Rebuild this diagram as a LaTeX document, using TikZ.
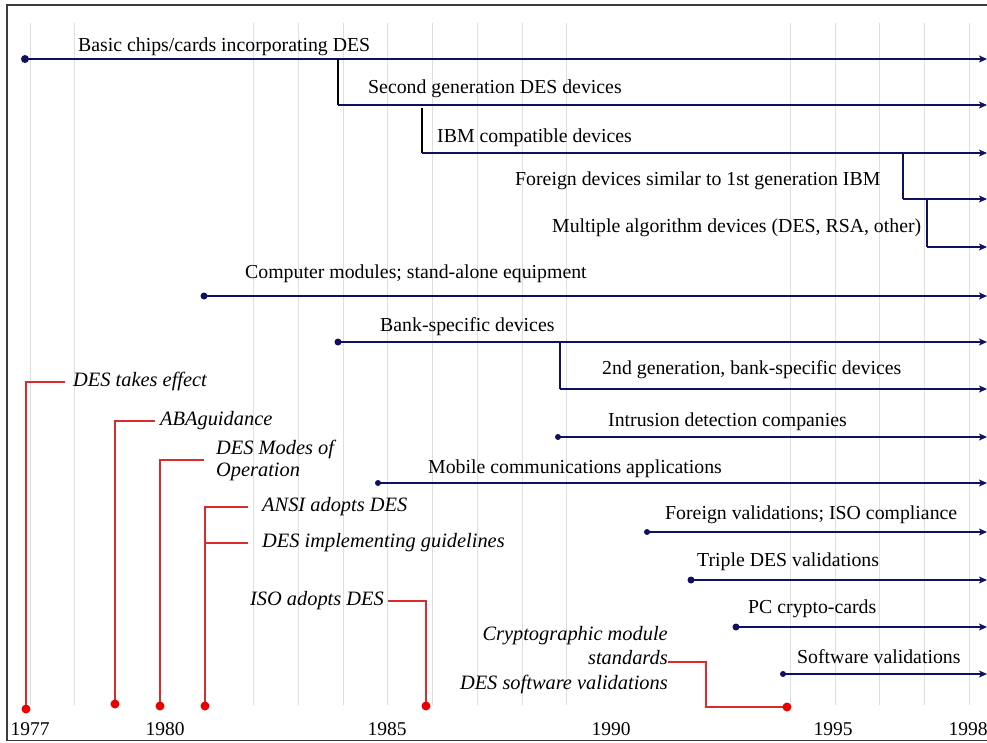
\documentclass[tikz,border=0pt]{standalone}
\usepackage{fontspec}
\setmainfont{Liberation Serif}
\usetikzlibrary{arrows.meta}
\definecolor{navy}{RGB}{16,16,96}
\definecolor{evred}{RGB}{215,45,45}
\definecolor{dotred}{RGB}{235,0,0}
\definecolor{gridgray}{RGB}{222,222,222}
\definecolor{framegray}{RGB}{60,60,60}
\begin{document}
\begin{tikzpicture}[x=1pt,y=-1pt,
  lbl/.style={font=\fontsize{19.8}{22}\selectfont, anchor=base west, inner sep=0pt},
  evt/.style={font=\fontsize{20.4}{22}\selectfont\itshape, anchor=west, inner sep=0pt, text height=13pt, text depth=4pt},
  evtml/.style={font=\fontsize{20.4}{22}\selectfont\itshape, inner sep=0pt},
  yr/.style={font=\fontsize{19.5}{22}\selectfont, anchor=base, inner sep=0pt},
  tl/.style={draw=navy, line width=1.3pt, -{Stealth[length=8pt,width=7pt,inset=2pt]}},
  tlthick/.style={tl, line width=2pt},
  branch/.style={draw=black, line width=1.3pt},
  nbranch/.style={draw=navy, line width=1.3pt},
  evline/.style={draw=evred, line width=1.3pt},
  gridline/.style={draw=gridgray, line width=0.8pt},
  bdot/.style={fill=navy},
  rdot/.style={fill=dotred}
]
\useasboundingbox (0,0) rectangle (987,742);
\fill[white] (0,0) rectangle (987,742);
% frame
\draw[framegray, line width=1.2pt] (1000,5) -- (7,5) -- (7,740.5) -- (1000,740.5);
% grid
\foreach \k in {0,1,5,6,7,8,9,10,11,12,17,18,19,20,21}
  \draw[gridline] ({30+44.72*\k},23) -- ({30+44.72*\k},705);

% ---------- blue timelines ----------
% 1
\coordinate (s1) at (25,59); \coordinate (e1) at (987,59);
\draw[tlthick] (s1) -- (e1);
\fill[bdot] (s1) circle (4pt);
\node[lbl] (l1) at (78,51) {Basic chips/cards incorporating DES};
% 2
\coordinate (b2) at (338,59); \coordinate (s2) at (338,105); \coordinate (e2) at (987,105);
\draw[branch] (b2) -- (s2);
\draw[tl] (s2) -- (e2);
\node[lbl] (l2) at (368,93) {Second generation DES devices};
% 3
\coordinate (b3) at (422,108); \coordinate (s3) at (422,153); \coordinate (e3) at (987,153);
\draw[branch] (b3) -- (s3);
\draw[tl] (s3) -- (e3);
\node[lbl] (l3) at (437,142) {IBM compatible devices};
% 4
\coordinate (b4) at (903,153); \coordinate (s4) at (903,199); \coordinate (e4) at (987,199);
\draw[nbranch] (b4) -- (s4);
\draw[tl] (s4) -- (e4);
\node[lbl] (l4) at (515,185) {Foreign devices similar to 1st generation IBM};
% 5
\coordinate (b5) at (927,199); \coordinate (s5) at (927,247); \coordinate (e5) at (987,247);
\draw[nbranch] (b5) -- (s5);
\draw[tl] (s5) -- (e5);
\node[lbl] (l5) at (552,232) {Multiple algorithm devices (DES, RSA, other)};
% 6
\coordinate (s6) at (204,296); \coordinate (e6) at (987,296);
\draw[tlthick] (s6) -- (e6);
\fill[bdot] (s6) circle (3.5pt);
\node[lbl] (l6) at (245,278) {Computer modules; stand-alone equipment};
% 7
\coordinate (s7) at (338,342); \coordinate (e7) at (987,342);
\draw[tlthick] (s7) -- (e7);
\fill[bdot] (s7) circle (3.5pt);
\node[lbl] (l7) at (380,331) {Bank-specific devices};
% 8
\coordinate (b8) at (560,342); \coordinate (s8) at (560,389); \coordinate (e8) at (987,389);
\draw[nbranch] (b8) -- (s8);
\draw[tl] (s8) -- (e8);
\node[lbl] (l8) at (602,374) {2nd generation, bank-specific devices};
% 9
\coordinate (s9) at (558,437); \coordinate (e9) at (987,437);
\draw[tl] (s9) -- (e9);
\fill[bdot] (s9) circle (3pt);
\node[lbl] (l9) at (608,426) {Intrusion detection companies};
% 10
\coordinate (s10) at (378,483); \coordinate (e10) at (987,483);
\draw[tl] (s10) -- (e10);
\fill[bdot] (s10) circle (3pt);
\node[lbl] (l10) at (428,473) {Mobile communications applications};
% 11
\coordinate (s11) at (647,532); \coordinate (e11) at (987,532);
\draw[tl] (s11) -- (e11);
\fill[bdot] (s11) circle (3pt);
\node[lbl] (l11) at (665,519) {Foreign validations; ISO compliance};
% 12
\coordinate (s12) at (691,580); \coordinate (e12) at (987,580);
\draw[tlthick] (s12) -- (e12);
\fill[bdot] (s12) circle (3.5pt);
\node[lbl] (l12) at (697,566) {Triple DES validations};
% 13
\coordinate (s13) at (736,627); \coordinate (e13) at (987,627);
\draw[tlthick] (s13) -- (e13);
\fill[bdot] (s13) circle (3.5pt);
\node[lbl] (l13) at (748,613) {PC crypto-cards};
% 14
\coordinate (s14) at (783,674); \coordinate (e14) at (987,674);
\draw[tl] (s14) -- (e14);
\fill[bdot] (s14) circle (3pt);
\node[lbl] (l14) at (797,663) {Software validations};

% ---------- red events ----------
\coordinate (d1) at (26,709);
\node[evt] (ev1) at (73,382) {DES takes effect};
\draw[evline] (d1) |- ([xshift=-8pt]ev1.west);

\coordinate (d2) at (115,704);
\node[evt] (ev2) at (160,421) {ABAguidance};
\draw[evline] (d2) |- ([xshift=-5pt]ev2.west);

\coordinate (d3) at (160,706);
\node[evtml, anchor=west, align=left] (ev3) at (216,460) {DES Modes of\\Operation};
\draw[evline] (d3) |- ([xshift=-12pt]ev3.west);

\coordinate (d4) at (205,706);
\node[evt] (ev4) at (262,507) {ANSI adopts DES};
\draw[evline] (d4) |- ([xshift=-14pt]ev4.west);
\node[evt] (ev5) at (262,543) {DES implementing guidelines};
\coordinate (j5) at (205,543);
\draw[evline] (j5) -- ([xshift=-14pt]ev5.west);

\coordinate (d6) at (426,706);
\node[evt, anchor=east] (ev6) at (384,601) {ISO adopts DES};
\draw[evline] (d6) |- ([xshift=4pt]ev6.east);

\coordinate (d7) at (787,707);
\coordinate (c7) at (706,662);
\node[evtml, anchor=east, align=right, font=\fontsize{20.4}{24.5}\selectfont\itshape] (ev7) at (668,660) {Cryptographic module\\standards\\DES software validations};
\draw[evline] (d7) -| (c7) -- (ev7.east |- c7);

\foreach \d in {d1,d2,d3,d4,d6,d7}
  \fill[rdot] (\d) circle (4.5pt);

% ---------- years ----------
\node[yr] (y1977) at (30,735) {1977};
\node[yr] (y1980) at (165,735) {1980};
\node[yr] (y1985) at (387,735) {1985};
\node[yr] (y1990) at (611,735) {1990};
\node[yr] (y1995) at (833,735) {1995};
\node[yr] (y1998) at (968,735) {1998};
\end{tikzpicture}
\end{document}
